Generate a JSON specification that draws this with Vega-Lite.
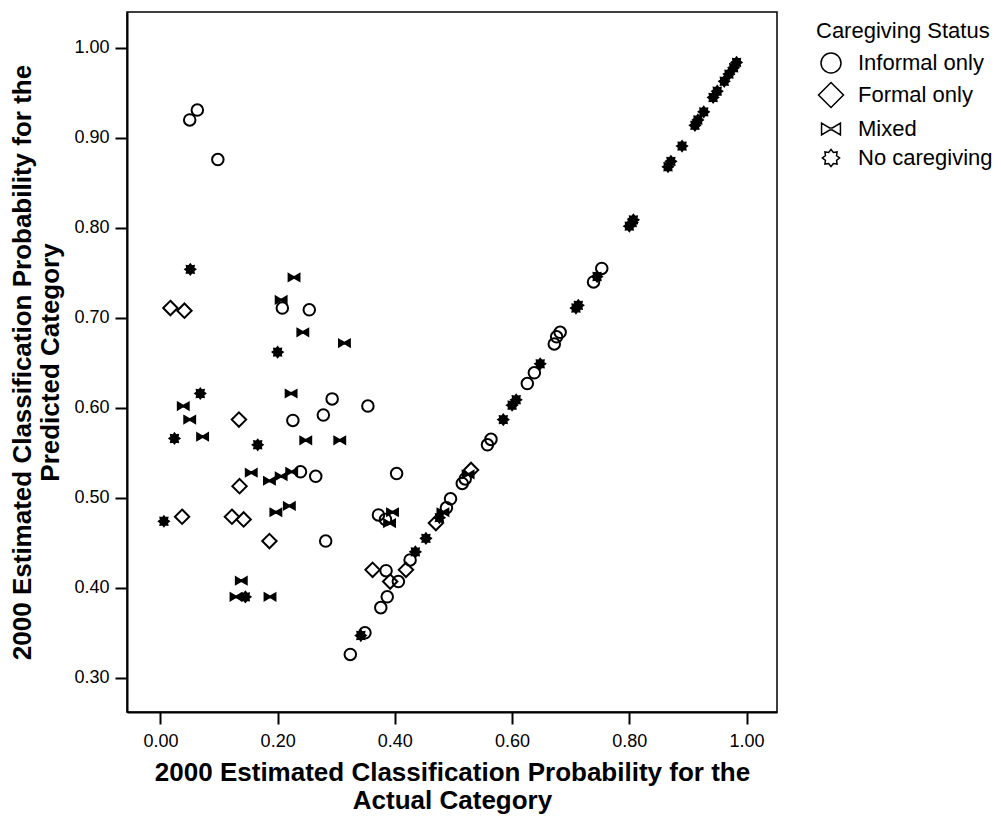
{
  "$schema": "https://vega.github.io/schema/vega-lite/v6.json",
  "width": 650,
  "height": 700,
  "autosize": "none",
  "padding": {"left": 127, "top": 12, "right": 224, "bottom": 111},
  "background": "white",
  "config": {
    "font": "Liberation Sans",
    "view": {"stroke": "black", "strokeWidth": 1.5},
    "axis": {
      "grid": false,
      "domainColor": "black",
      "domainWidth": 2,
      "tickColor": "black",
      "tickWidth": 2,
      "tickSize": 12,
      "labelColor": "black",
      "labelFontSize": 18,
      "titleColor": "black",
      "titleFontSize": 26,
      "titleFontWeight": "bold",
      "titleLineHeight": 28
    }
  },
  "data": {
    "values": [
      {"actual": 0.050, "predicted": 0.920, "status": "Informal only"},
      {"actual": 0.063, "predicted": 0.931, "status": "Informal only"},
      {"actual": 0.098, "predicted": 0.876, "status": "Informal only"},
      {"actual": 0.208, "predicted": 0.711, "status": "Informal only"},
      {"actual": 0.254, "predicted": 0.709, "status": "Informal only"},
      {"actual": 0.293, "predicted": 0.610, "status": "Informal only"},
      {"actual": 0.278, "predicted": 0.592, "status": "Informal only"},
      {"actual": 0.226, "predicted": 0.586, "status": "Informal only"},
      {"actual": 0.354, "predicted": 0.602, "status": "Informal only"},
      {"actual": 0.239, "predicted": 0.529, "status": "Informal only"},
      {"actual": 0.265, "predicted": 0.524, "status": "Informal only"},
      {"actual": 0.403, "predicted": 0.527, "status": "Informal only"},
      {"actual": 0.372, "predicted": 0.481, "status": "Informal only"},
      {"actual": 0.384, "predicted": 0.476, "status": "Informal only"},
      {"actual": 0.282, "predicted": 0.452, "status": "Informal only"},
      {"actual": 0.385, "predicted": 0.419, "status": "Informal only"},
      {"actual": 0.406, "predicted": 0.407, "status": "Informal only"},
      {"actual": 0.387, "predicted": 0.390, "status": "Informal only"},
      {"actual": 0.376, "predicted": 0.378, "status": "Informal only"},
      {"actual": 0.426, "predicted": 0.431, "status": "Informal only"},
      {"actual": 0.349, "predicted": 0.350, "status": "Informal only"},
      {"actual": 0.324, "predicted": 0.326, "status": "Informal only"},
      {"actual": 0.488, "predicted": 0.489, "status": "Informal only"},
      {"actual": 0.495, "predicted": 0.499, "status": "Informal only"},
      {"actual": 0.515, "predicted": 0.516, "status": "Informal only"},
      {"actual": 0.520, "predicted": 0.521, "status": "Informal only"},
      {"actual": 0.558, "predicted": 0.559, "status": "Informal only"},
      {"actual": 0.564, "predicted": 0.565, "status": "Informal only"},
      {"actual": 0.626, "predicted": 0.627, "status": "Informal only"},
      {"actual": 0.638, "predicted": 0.639, "status": "Informal only"},
      {"actual": 0.672, "predicted": 0.671, "status": "Informal only"},
      {"actual": 0.676, "predicted": 0.679, "status": "Informal only"},
      {"actual": 0.682, "predicted": 0.684, "status": "Informal only"},
      {"actual": 0.739, "predicted": 0.740, "status": "Informal only"},
      {"actual": 0.753, "predicted": 0.755, "status": "Informal only"},

      {"actual": 0.017, "predicted": 0.711, "status": "Formal only"},
      {"actual": 0.041, "predicted": 0.708, "status": "Formal only"},
      {"actual": 0.134, "predicted": 0.587, "status": "Formal only"},
      {"actual": 0.135, "predicted": 0.513, "status": "Formal only"},
      {"actual": 0.037, "predicted": 0.479, "status": "Formal only"},
      {"actual": 0.122, "predicted": 0.479, "status": "Formal only"},
      {"actual": 0.142, "predicted": 0.476, "status": "Formal only"},
      {"actual": 0.186, "predicted": 0.452, "status": "Formal only"},
      {"actual": 0.362, "predicted": 0.420, "status": "Formal only"},
      {"actual": 0.392, "predicted": 0.407, "status": "Formal only"},
      {"actual": 0.419, "predicted": 0.420, "status": "Formal only"},
      {"actual": 0.470, "predicted": 0.472, "status": "Formal only"},
      {"actual": 0.530, "predicted": 0.531, "status": "Formal only"},

      {"actual": 0.228, "predicted": 0.745, "status": "Mixed"},
      {"actual": 0.206, "predicted": 0.720, "status": "Mixed"},
      {"actual": 0.243, "predicted": 0.684, "status": "Mixed"},
      {"actual": 0.314, "predicted": 0.672, "status": "Mixed"},
      {"actual": 0.223, "predicted": 0.616, "status": "Mixed"},
      {"actual": 0.039, "predicted": 0.602, "status": "Mixed"},
      {"actual": 0.050, "predicted": 0.587, "status": "Mixed"},
      {"actual": 0.072, "predicted": 0.568, "status": "Mixed"},
      {"actual": 0.248, "predicted": 0.564, "status": "Mixed"},
      {"actual": 0.306, "predicted": 0.564, "status": "Mixed"},
      {"actual": 0.155, "predicted": 0.528, "status": "Mixed"},
      {"actual": 0.186, "predicted": 0.519, "status": "Mixed"},
      {"actual": 0.206, "predicted": 0.524, "status": "Mixed"},
      {"actual": 0.224, "predicted": 0.529, "status": "Mixed"},
      {"actual": 0.197, "predicted": 0.484, "status": "Mixed"},
      {"actual": 0.220, "predicted": 0.491, "status": "Mixed"},
      {"actual": 0.396, "predicted": 0.484, "status": "Mixed"},
      {"actual": 0.391, "predicted": 0.472, "status": "Mixed"},
      {"actual": 0.138, "predicted": 0.408, "status": "Mixed"},
      {"actual": 0.129, "predicted": 0.390, "status": "Mixed"},
      {"actual": 0.187, "predicted": 0.390, "status": "Mixed"},
      {"actual": 0.482, "predicted": 0.484, "status": "Mixed"},
      {"actual": 0.525, "predicted": 0.526, "status": "Mixed"},

      {"actual": 0.051, "predicted": 0.754, "status": "No caregiving"},
      {"actual": 0.200, "predicted": 0.662, "status": "No caregiving"},
      {"actual": 0.068, "predicted": 0.616, "status": "No caregiving"},
      {"actual": 0.024, "predicted": 0.566, "status": "No caregiving"},
      {"actual": 0.166, "predicted": 0.559, "status": "No caregiving"},
      {"actual": 0.006, "predicted": 0.474, "status": "No caregiving"},
      {"actual": 0.145, "predicted": 0.390, "status": "No caregiving"},
      {"actual": 0.342, "predicted": 0.347, "status": "No caregiving"},
      {"actual": 0.435, "predicted": 0.440, "status": "No caregiving"},
      {"actual": 0.453, "predicted": 0.455, "status": "No caregiving"},
      {"actual": 0.476, "predicted": 0.478, "status": "No caregiving"},
      {"actual": 0.585, "predicted": 0.587, "status": "No caregiving"},
      {"actual": 0.600, "predicted": 0.603, "status": "No caregiving"},
      {"actual": 0.607, "predicted": 0.609, "status": "No caregiving"},
      {"actual": 0.648, "predicted": 0.649, "status": "No caregiving"},
      {"actual": 0.709, "predicted": 0.711, "status": "No caregiving"},
      {"actual": 0.713, "predicted": 0.714, "status": "No caregiving"},
      {"actual": 0.745, "predicted": 0.746, "status": "No caregiving"},
      {"actual": 0.800, "predicted": 0.802, "status": "No caregiving"},
      {"actual": 0.805, "predicted": 0.806, "status": "No caregiving"},
      {"actual": 0.807, "predicted": 0.809, "status": "No caregiving"},
      {"actual": 0.866, "predicted": 0.868, "status": "No caregiving"},
      {"actual": 0.871, "predicted": 0.874, "status": "No caregiving"},
      {"actual": 0.890, "predicted": 0.891, "status": "No caregiving"},
      {"actual": 0.912, "predicted": 0.914, "status": "No caregiving"},
      {"actual": 0.917, "predicted": 0.920, "status": "No caregiving"},
      {"actual": 0.927, "predicted": 0.929, "status": "No caregiving"},
      {"actual": 0.943, "predicted": 0.945, "status": "No caregiving"},
      {"actual": 0.950, "predicted": 0.952, "status": "No caregiving"},
      {"actual": 0.962, "predicted": 0.963, "status": "No caregiving"},
      {"actual": 0.970, "predicted": 0.971, "status": "No caregiving"},
      {"actual": 0.978, "predicted": 0.978, "status": "No caregiving"},
      {"actual": 0.983, "predicted": 0.984, "status": "No caregiving"}
    ]
  },
  "mark": {"type": "point", "size": 256, "stroke": "black", "strokeWidth": 2, "opacity": 1, "clip": true},
  "encoding": {
    "x": {
      "field": "actual",
      "type": "quantitative",
      "scale": {"domain": [-0.057, 1.052], "nice": false, "zero": false},
      "axis": {
        "values": [0, 0.2, 0.4, 0.6, 0.8, 1.0],
        "format": ".2f",
        "labelPadding": 8,
        "titlePadding": 9,
        "title": ["2000 Estimated Classification Probability for the", "Actual Category"]
      }
    },
    "y": {
      "field": "predicted",
      "type": "quantitative",
      "scale": {"domain": [0.262, 1.04], "nice": false, "zero": false},
      "axis": {
        "values": [0.3, 0.4, 0.5, 0.6, 0.7, 0.8, 0.9, 1.0],
        "format": ".2f",
        "labelPadding": 6,
        "titlePadding": 10,
        "title": ["2000 Estimated Classification Probability for the", "Predicted Category"]
      }
    },
    "shape": {
      "field": "status",
      "type": "nominal",
      "scale": {
        "domain": ["Informal only", "Formal only", "Mixed", "No caregiving"],
        "range": [
          "M0.72,0A0.72,0.72,0,1,1,-0.72,0A0.72,0.72,0,1,1,0.72,0Z",
          "M0,-0.9L0.9,0L0,0.9L-0.9,0Z",
          "M-0.68,-0.42L-0.1,-0.08L0.1,-0.08L0.68,-0.42L0.68,0.42L0.1,0.08L-0.1,0.08L-0.68,0.42Z",
          "M0.62,0L0.401,0.166L0.438,0.438L0.166,0.401L0,0.62L-0.166,0.401L-0.438,0.438L-0.401,0.166L-0.62,0L-0.401,-0.166L-0.438,-0.438L-0.166,-0.401L0,-0.62L0.166,-0.401L0.438,-0.438L0.401,-0.166Z"
        ]
      },
      "legend": {
        "title": "Caregiving Status",
        "orient": "none",
        "legendX": 689,
        "legendY": 9,
        "titleFontSize": 22,
        "titleFontWeight": "normal",
        "titleColor": "black",
        "titlePadding": 5,
        "labelFontSize": 22,
        "labelColor": "black",
        "labelOffset": 12,
        "symbolSize": 770,
        "symbolStrokeColor": "black",
        "symbolStrokeWidth": 1.5,
        "symbolFillColor": "transparent",
        "rowPadding": 3,
        "encode": {
          "symbols": {
            "update": {
              "fill": {"value": "transparent"},
              "stroke": {"value": "black"},
              "strokeWidth": {"value": 1.5}
            }
          }
        }
      }
    },
    "fill": {
      "condition": {"test": "datum.status === 'Mixed' || datum.status === 'No caregiving'", "value": "black"},
      "value": "transparent"
    }
  }
}
